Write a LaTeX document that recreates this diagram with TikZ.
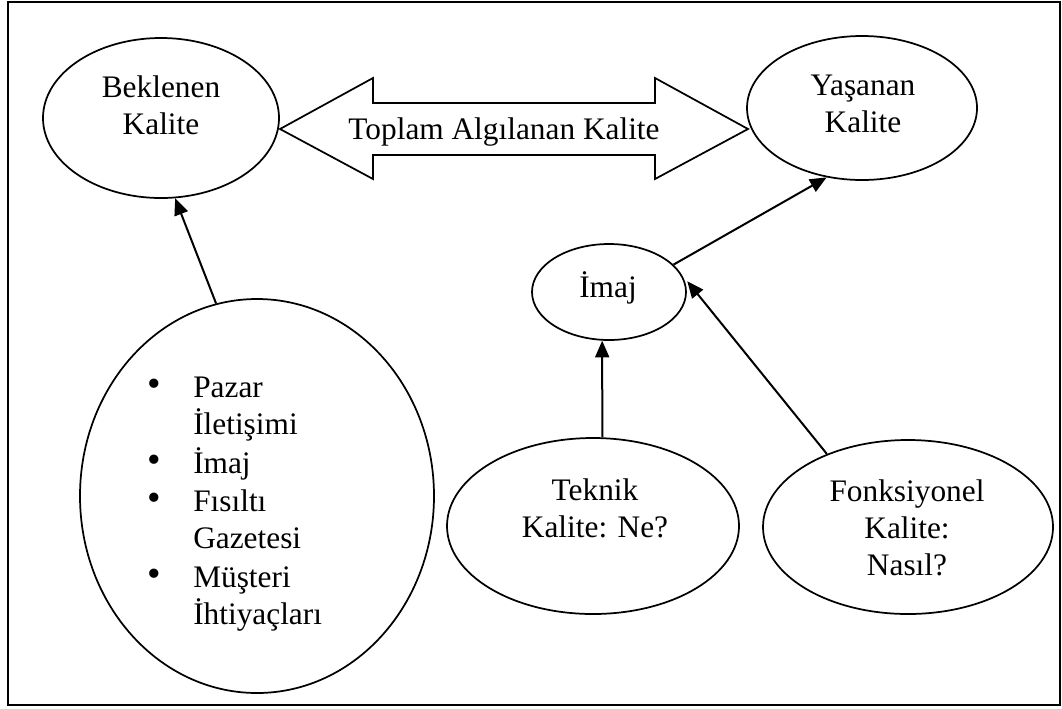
\documentclass[tikz,border=0pt]{standalone}
\usepackage{fontspec}
\setmainfont{Liberation Serif}
\usetikzlibrary{shapes.geometric,arrows.meta}
\begin{document}
\begin{tikzpicture}[x=0.75pt,y=-0.75pt,
  oval/.style 2 args={ellipse,draw,line width=1.3pt,inner sep=0pt,
    minimum width=#1*0.75pt,minimum height=#2*0.75pt},
  txt/.style={font=\fontsize{23.5}{27.6}\selectfont,inner sep=0pt,align=center,anchor=base},
  lst/.style={font=\fontsize{23.5}{27.6}\selectfont,inner sep=0pt,anchor=base west},
  dot/.style={font=\fontsize{29}{30}\selectfont,inner sep=0pt,anchor=center},
  link/.style={-{Triangle[length=12.5pt,width=10.5pt]},line width=1.5pt}]
\useasboundingbox (0,0) rectangle (1062,708);
% outer frame
\draw[line width=1.4pt] (8,2) rectangle (1060,705);

% ovals
\node[oval={236}{160}] (bek)  at (161,118) {};
\node[oval={230}{144}] (yas)  at (862,108) {};
\node[oval={154}{96}]  (imaj) at (609,292) {};
\node[oval={292}{176}] (tek)  at (593,526) {};
\node[oval={290}{174}] (fonk) at (908,527) {};
\node[oval={354}{394}] (big)  at (257,496) {};

% double arrow between expected and experienced quality
\draw[line width=1.3pt,line join=miter] (280,129) -- (373,78) -- (373,103) -- (655,103)
  -- (655,78) -- (748,129) -- (655,179) -- (655,155) -- (373,155) -- (373,179) -- cycle;
\node[txt] (tak) at (504,139) {Toplam Algılanan Kalite};

% oval labels (anchored at the baseline of the last line)
\node[txt] (tbek)  at (161,134) {Beklenen\\Kalite};
\node[txt] (tyas)  at (863,132) {Yaşanan\\Kalite};
\node[txt] (timaj) at (608,297) {İmaj};
\node[txt] (ttek)  at (595,537) {Teknik\\Kalite: Ne?};
\node[txt] (tfonk) at (907,575) {Fonksiyonel\\Kalite:\\Nasıl?};

% bullet list
\node[dot] (b1) at (154,388) {•};
\node[dot] (b2) at (154,464) {•};
\node[dot] (b3) at (154,502) {•};
\node[dot] (b4) at (154,578) {•};
\node[lst] (l1) at (193,397) {Pazar};
\node[lst] (l2) at (193,434) {İletişimi};
\node[lst] (l3) at (193,473) {İmaj};
\node[lst] (l4) at (193,511) {Fısıltı};
\node[lst] (l5) at (193,548) {Gazetesi};
\node[lst] (l6) at (193,587) {Müşteri};
\node[lst] (l7) at (193,624) {İhtiyaçları};

% connectors
\draw[link] (big.102) -- (bek.280);
\draw[link] (imaj.23) -- (yas.243);
\draw[link] (tek.84) -- (imaj.262);
\draw[link,shorten >=7pt] (fonk.138) -- (imaj.14);
\end{tikzpicture}
\end{document}
